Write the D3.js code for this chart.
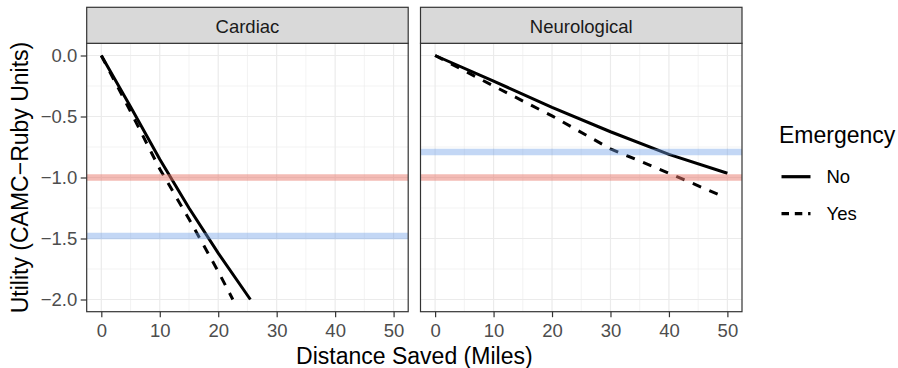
<!DOCTYPE html>
<html>
<head>
<meta charset="utf-8">
<script src="https://cdn.jsdelivr.net/npm/d3@7"></script>
<style>
  body { margin: 0; background: #fff; }
  svg { font-family: "Liberation Sans", Arial, sans-serif; display: block; }
</style>
</head>
<body>
<svg id="chart" width="898" height="368"></svg>
<script>
const FACETS = ["Cardiac", "Neurological"]
const EMERGENCY = ["No", "Yes"]
const X_TICKS = [0, 10, 20, 30, 40, 50]
const X_MINOR = [5, 15, 25, 35, 45]
const Y_TICKS = [0, -0.5, -1, -1.5, -2]
const Y_MINOR = [-0.25, -0.75, -1.25, -1.75]

// distance saved (miles) / utility
const CARDIAC_NO_X = [0, 5, 10, 15, 20, 25.5]
const CARDIAC_NO_Y = [0, -0.42, -0.85, -1.25, -1.62, -2.0]
const CARDIAC_YES_X = [0, 5, 10, 15, 20, 22.5]
const CARDIAC_YES_Y = [0, -0.46, -0.93, -1.34, -1.77, -2.0]
const NEURO_NO_X = [0, 10, 20, 30, 40, 50]
const NEURO_NO_Y = [0, -0.21, -0.425, -0.625, -0.81, -0.965]
const NEURO_YES_X = [0, 10, 20, 30, 40, 49]
const NEURO_YES_Y = [0, -0.25, -0.495, -0.765, -0.965, -1.15]

// horizontal reference lines per facet
const RED_LINE = [-1.0, -1.0]
const BLUE_LINE = [-1.48, -0.79]

const series = {
  Cardiac: {
    No: d3.zip(CARDIAC_NO_X, CARDIAC_NO_Y),
    Yes: d3.zip(CARDIAC_YES_X, CARDIAC_YES_Y)
  },
  Neurological: {
    No: d3.zip(NEURO_NO_X, NEURO_NO_Y),
    Yes: d3.zip(NEURO_YES_X, NEURO_YES_Y)
  }
}

const svg = d3.select("#chart")

const panelLefts = [86.7, 420.5]
const panelW = 321.5
const panelTop = 43.3
const panelH = 268.4
const stripTop = 7.3
const stripH = panelTop - stripTop
const grid = "#EBEBEB"
const dark = "#333333"

const y = d3.scaleLinear().domain([-2.1, 0.1]).range([panelTop + panelH, panelTop])
const yFmt = d3.format(".1f")

const dashFor = { No: null, Yes: "9,9" }

FACETS.forEach((facet, fi) => {
  const left = panelLefts[fi]
  const x = d3.scaleLinear().domain([-2.5, 52.5]).range([left, left + panelW])
  const g = svg.append("g")

  g.append("clipPath").attr("id", "clip" + fi)
    .append("rect").attr("x", left).attr("y", panelTop).attr("width", panelW).attr("height", panelH)

  // grid
  g.selectAll(".xminor").data(X_MINOR).enter().append("line")
    .attr("x1", d => x(d)).attr("x2", d => x(d))
    .attr("y1", panelTop).attr("y2", panelTop + panelH)
    .attr("stroke", grid).attr("stroke-width", 0.6)
  g.selectAll(".yminor").data(Y_MINOR).enter().append("line")
    .attr("x1", left).attr("x2", left + panelW)
    .attr("y1", d => y(d)).attr("y2", d => y(d))
    .attr("stroke", grid).attr("stroke-width", 0.6)
  g.selectAll(".xmajor").data(X_TICKS).enter().append("line")
    .attr("x1", d => x(d)).attr("x2", d => x(d))
    .attr("y1", panelTop).attr("y2", panelTop + panelH)
    .attr("stroke", grid).attr("stroke-width", 1.2)
  g.selectAll(".ymajor").data(Y_TICKS).enter().append("line")
    .attr("x1", left).attr("x2", left + panelW)
    .attr("y1", d => y(d)).attr("y2", d => y(d))
    .attr("stroke", grid).attr("stroke-width", 1.2)

  // data lines
  const line = d3.line().x(d => x(d[0])).y(d => y(d[1]))
  const plot = g.append("g").attr("clip-path", `url(#clip${fi})`)
  EMERGENCY.forEach(em => {
    plot.append("path")
      .datum(series[facet][em])
      .attr("d", line)
      .attr("fill", "none")
      .attr("stroke", "#000")
      .attr("stroke-width", 3)
      .attr("stroke-linecap", "butt")
      .attr("stroke-dasharray", dashFor[em])
  })

  // reference lines
  plot.append("line")
    .attr("x1", left).attr("x2", left + panelW)
    .attr("y1", y(BLUE_LINE[fi])).attr("y2", y(BLUE_LINE[fi]))
    .attr("stroke", "#6F9FE8").attr("stroke-opacity", 0.42).attr("stroke-width", 6.5)
  plot.append("line")
    .attr("x1", left).attr("x2", left + panelW)
    .attr("y1", y(RED_LINE[fi])).attr("y2", y(RED_LINE[fi]))
    .attr("stroke", "#E8776C").attr("stroke-opacity", 0.5).attr("stroke-width", 6.5)

  // panel border
  g.append("rect")
    .attr("x", left).attr("y", panelTop).attr("width", panelW).attr("height", panelH)
    .attr("fill", "none").attr("stroke", dark).attr("stroke-width", 1.2)

  // strip
  g.append("rect")
    .attr("x", left).attr("y", stripTop).attr("width", panelW).attr("height", stripH)
    .attr("fill", "#D9D9D9").attr("stroke", dark).attr("stroke-width", 1.2)
  g.append("text")
    .attr("x", left + panelW / 2).attr("y", stripTop + 26)
    .attr("text-anchor", "middle").attr("font-size", 18.5).attr("fill", "#1A1A1A")
    .text(facet)

  // x axis
  const xAxis = g.append("g").attr("transform", `translate(0,${panelTop + panelH})`)
    .call(d3.axisBottom(x).tickValues(X_TICKS).tickSize(5.5).tickPadding(7).tickFormat(d3.format("d")))
  xAxis.select(".domain").remove()
  xAxis.selectAll(".tick line").attr("stroke", dark).attr("stroke-width", 1.2)
  xAxis.selectAll(".tick text").attr("font-size", 18.5).attr("fill", "#4D4D4D")
    .attr("font-family", "Liberation Sans, Arial, sans-serif")

  if (fi === 0) {
    const yAxis = g.append("g").attr("transform", `translate(${left},0)`)
      .call(d3.axisLeft(y).tickValues(Y_TICKS).tickSize(6).tickPadding(3.5).tickFormat(yFmt))
    yAxis.select(".domain").remove()
    yAxis.selectAll(".tick line").attr("stroke", dark).attr("stroke-width", 1.2)
    yAxis.selectAll(".tick text").attr("font-size", 18.5).attr("fill", "#4D4D4D")
      .attr("font-family", "Liberation Sans, Arial, sans-serif")
  }
})

// axis titles
svg.append("text")
  .attr("x", (panelLefts[0] + panelLefts[1] + panelW) / 2).attr("y", 364)
  .attr("text-anchor", "middle").attr("font-size", 23).attr("fill", "#000")
  .text("Distance Saved (Miles)")
svg.append("text")
  .attr("transform", `translate(28,${panelTop + panelH / 2}) rotate(-90)`)
  .attr("text-anchor", "middle").attr("font-size", 23).attr("fill", "#000")
  .text("Utility (CAMC\u2212Ruby Units)")

// legend
const legend = svg.append("g")
legend.append("text").attr("x", 779).attr("y", 143)
  .attr("font-size", 23).attr("fill", "#000").text("Emergency")
const legendY = [176.7, 213.7]
EMERGENCY.forEach((em, i) => {
  legend.append("line")
    .attr("x1", 781.5).attr("x2", 810.5)
    .attr("y1", legendY[i]).attr("y2", legendY[i])
    .attr("stroke", "#000").attr("stroke-width", 3.2)
    .attr("stroke-dasharray", em === "Yes" ? "7.5,5.8" : null)
  legend.append("text").attr("x", 826.5).attr("y", legendY[i] + 6.6)
    .attr("font-size", 18.5).attr("fill", "#000").text(em)
})
</script>
</body>
</html>
